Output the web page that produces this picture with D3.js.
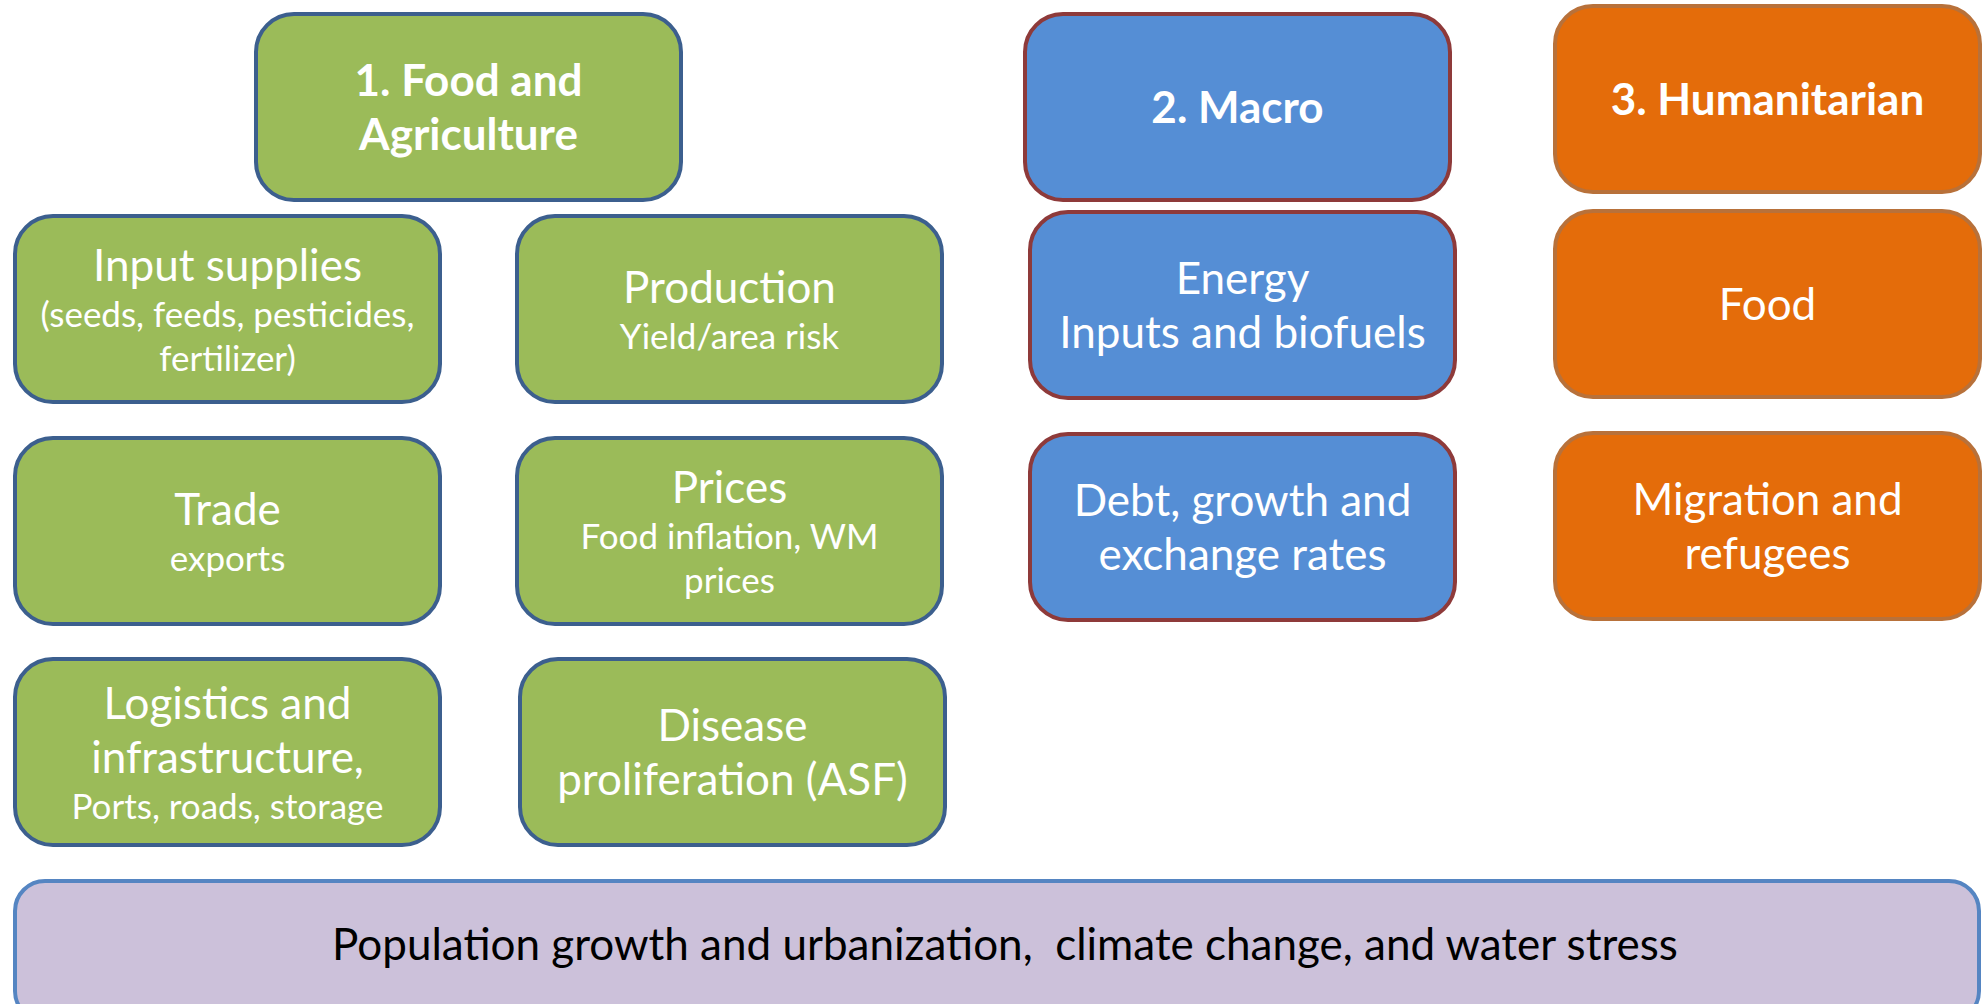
<!DOCTYPE html>
<html>
<head>
<meta charset="utf-8">
<script src="https://cdn.jsdelivr.net/npm/d3@7"></script>
<style>
    html, body { margin: 0; padding: 0; background: #fff; overflow: hidden; }
    svg { display: block; }
    text { white-space: pre; }
</style>
</head>
<body>
<svg id="diagram"></svg>
<script>
// ---- data ----
const groupTitles = ["1. Food and\nAgriculture", "2. Macro", "3. Humanitarian"];
const foodLabels = ["Input supplies", "Production", "Trade", "Prices", "Logistics and\ninfrastructure,", "Disease\nproliferation (ASF)"];
const foodNotes = ["(seeds, feeds, pesticides,\nfertilizer)", "Yield/area risk", "exports", "Food inflation, WM\nprices", "Ports, roads, storage", ""];
const macroLabels = ["Energy\nInputs and biofuels", "Debt, growth and\nexchange rates"];
const humanitarianLabels = ["Food", "Migration and\nrefugees"];
const baseLabel = "Population growth and urbanization,  climate change, and water stress";

// ---- config ----
const config = {
    width: 1982, height: 1004,
    box: { w: 425, h: 186, rx: 38 },
    font: "Lato, 'Open Sans', sans-serif",
    size: { main: 44, note: 35 },
    colors: {
        food: { fill: "#9BBB59", stroke: "#3C5F8E" },
        macro: { fill: "#558ED5", stroke: "#8E3A3A" },
        hum: { fill: "#E46C0A", stroke: "#B8713A" },
        base: { fill: "#CCC1DA", stroke: "#5585C2" }
    }
};

// column / row scales
const colX = d3.scaleOrdinal().domain([0, 1, 2, 3]).range([15, 517, 1027, 1555]);
const rowY = d3.scaleOrdinal().domain(["head", 0, 1, 2]).range([14, 216, 438, 659]);

// split a label into text lines
function lines(str, size, bold) {
    return str ? str.split("\n").map(t => ({ text: t, size: size, bold: bold })) : [];
}

const nodes = [];
nodes.push({ col: 0, row: "head", c: "food", lines: lines(groupTitles[0], config.size.main, true), dx: 241 });
nodes.push({ col: 2, row: "head", c: "macro", lines: lines(groupTitles[1], config.size.main, true), dx: -2 });
nodes.push({ col: 3, row: "head", c: "hum", lines: lines(groupTitles[2], config.size.main, true), dy: -8 });

foodLabels.forEach((d, i) => {
    nodes.push({
        col: i % 2, row: Math.floor(i / 2), c: "food",
        lines: lines(d, config.size.main, false).concat(lines(foodNotes[i], config.size.note, false)),
        dx: (i === 5) ? 3 : 0
    });
});
macroLabels.forEach((d, i) => {
    nodes.push({ col: 2, row: i, c: "macro", lines: lines(d, config.size.main, false), dx: 3, dy: -4 });
});
humanitarianLabels.forEach((d, i) => {
    nodes.push({ col: 3, row: i, c: "hum", lines: lines(d, config.size.main, false), dy: -5 });
});

const svg = d3.select("#diagram")
    .attr("width", config.width)
    .attr("height", config.height);

const g = svg.selectAll("g.node")
    .data(nodes)
    .join("g")
    .attr("class", "node")
    .attr("transform", d => `translate(${colX(d.col) + (d.dx || 0)}, ${rowY(d.row) + (d.dy || 0)})`);

g.append("rect")
    .attr("x", 0).attr("y", 0)
    .attr("width", config.box.w)
    .attr("height", config.box.h)
    .attr("rx", config.box.rx)
    .attr("fill", d => config.colors[d.c].fill)
    .attr("stroke", d => config.colors[d.c].stroke)
    .attr("stroke-width", 4);

// text block, vertically centered in the box
g.each(function (d) {
    const lh = d.lines.map(l => l.size * 1.24);
    const total = d3.sum(lh);
    let y = config.box.h / 2 - total / 2;
    const sel = d3.select(this);
    d.lines.forEach((l, i) => {
        const cy = y + lh[i] / 2;
        sel.append("text")
            .attr("x", config.box.w / 2)
            .attr("y", cy + l.size * 0.36)
            .attr("text-anchor", "middle")
            .attr("font-family", config.font)
            .attr("font-size", l.size)
            .attr("font-weight", l.bold ? "bold" : "normal")
            .attr("fill", "#fff")
            .text(l.text);
        y += lh[i];
    });
});

// bottom bar
const base = svg.append("g").attr("transform", "translate(15, 881)");
base.append("rect")
    .attr("width", 1964).attr("height", 140)
    .attr("rx", 30)
    .attr("fill", config.colors.base.fill)
    .attr("stroke", config.colors.base.stroke)
    .attr("stroke-width", 4);
base.append("text")
    .attr("x", 1964 / 2 + 8)
    .attr("y", 63 + config.size.main * 0.36)
    .attr("text-anchor", "middle")
    .attr("font-family", config.font)
    .attr("font-size", config.size.main)
    .attr("fill", "#000")
    .text(baseLabel);
</script>
</body>
</html>
